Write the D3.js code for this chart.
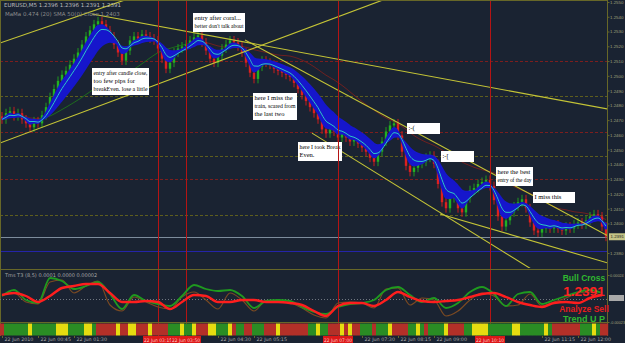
<!DOCTYPE html>
<html>
<head>
<meta charset="utf-8">
<script src="https://cdn.jsdelivr.net/npm/d3@7"></script>
<style>
  html, body { margin: 0; padding: 0; background: #1a2332; }
  svg { display: block; }
  text { font-family: "DejaVu Sans", sans-serif; }
</style>
</head>
<body>
<div id="chart"></div>
<script>
// EURUSD M5 closes
const closes = [
  1.24705, 1.24747, 1.24760, 1.24726, 1.24747, 1.24705, 1.24678, 1.24651, 1.24692, 1.24678,
  1.24733, 1.24788, 1.24856, 1.24911, 1.24966, 1.25007, 1.25034, 1.25075, 1.25116, 1.25158,
  1.25212, 1.25267, 1.25308, 1.25349, 1.25370, 1.25349, 1.25308, 1.25267, 1.25212, 1.25158,
  1.25103, 1.25171, 1.25240, 1.25267, 1.25253, 1.25281, 1.25267, 1.25253, 1.25240, 1.25185,
  1.25116, 1.25048, 1.25089, 1.25158, 1.25185, 1.25199, 1.25212, 1.25240, 1.25260, 1.25274,
  1.25226, 1.25171, 1.25116, 1.25089, 1.25137, 1.25185, 1.25212, 1.25240, 1.25226, 1.25199,
  1.25158, 1.25089, 1.25021, 1.24979, 1.25062, 1.25103, 1.25089, 1.25075, 1.25048, 1.25034,
  1.25021, 1.25007, 1.24993, 1.24952, 1.24911, 1.24870, 1.24829, 1.24788, 1.24747, 1.24705,
  1.24637, 1.24610, 1.24637, 1.24623, 1.24582, 1.24610, 1.24582, 1.24555, 1.24568, 1.24541,
  1.24514, 1.24486, 1.24445, 1.24418, 1.24486, 1.24555, 1.24623, 1.24664, 1.24678, 1.24596,
  1.24486, 1.24390, 1.24349, 1.24377, 1.24404, 1.24418, 1.24445, 1.24459, 1.24404, 1.24267,
  1.24144, 1.24103, 1.24171, 1.24185, 1.24103, 1.24075, 1.24171, 1.24226, 1.24240, 1.24267,
  1.24281, 1.24295, 1.24253, 1.24158, 1.24048, 1.23979, 1.24021, 1.24075, 1.24116, 1.24144,
  1.24164, 1.24103, 1.24007, 1.23952, 1.23938, 1.23966, 1.23979, 1.23966, 1.23993, 1.23966,
  1.23952, 1.23979, 1.23966, 1.23993, 1.24007, 1.23993, 1.24021, 1.24048, 1.24062, 1.24048,
  1.23979, 1.23910
];
const bidPrice = 1.2391;

const priceTicks = [1.2550, 1.2540, 1.2530, 1.2520, 1.2510, 1.2500, 1.2490, 1.2480, 1.2470,
  1.2460, 1.2450, 1.2440, 1.2430, 1.2420, 1.2410, 1.2400, 1.2390, 1.2380];

// horizontal levels drawn on the chart
const levelPrices = [1.2510, 1.24863, 1.24619, 1.24457, 1.24301, 1.24057, 1.23813];
const levelKinds = ['res', 'round', 'res', 'round', 'res', 'round', 'low'];

// trend lines: [bar0, price0, bar1, price1]
const trendLines = [
  [-0.5, 1.25222, 30.75, 1.25514],
  [-0.5, 1.24545, 95.25, 1.25514],
  [22.5, 1.25419, 151.5, 1.24775],
  [60.75, 1.25243, 151.5, 1.23915],
  [77.5, 1.24612, 132.75, 1.23684],
  [109.5, 1.24064, 151.5, 1.23732]
];

const vLineBars = [39, 46, 84, 122];
const vLineLabels = ['22 Jun 03:15', '22 Jun 03:50', '22 Jun 07:00', '22 Jun 10:10'];

const timeTickBars = [0, 9, 18, 27, 36, 45, 54, 63, 72, 81, 90, 99, 108, 117, 126, 135, 144];
const timeTickLabels = ['22 Jun 2010', '22 Jun 00:45', '22 Jun 01:30', '22 Jun 02:15', '22 Jun 03:00',
  '22 Jun 03:45', '22 Jun 04:30', '22 Jun 05:15', '22 Jun 06:00', '22 Jun 06:45', '22 Jun 07:30',
  '22 Jun 08:15', '22 Jun 09:00', '22 Jun 09:45', '22 Jun 10:30', '22 Jun 11:15', '22 Jun 12:00'];

// oscillator window, one value every 3 bars (units of 0.00001)
const oscRed = [4, 6, 3, -3, 3, 11, 13, 15, 15, 6, -3, -3, -2, -3, -10, -3, 4, 3, -3, -3, -1, -1, -3, -3, -4,
  -6, -12, -17, -7, -4, -4, -7, -1, 7, 2, -2, -3, -2, -1, 2, 5, 6, 2, -3, -6, -8, -4, -3, -4, 1, 4];
const oscGreen = [3, 9, -1, -4, 21, 18, 10, 13, 17, 5, -10, 4, -2, -5, -7, 3, 14, 10, 8, 9, 3, -9, -2, -1, -2,
  -8, -13, -15, -8, -5, -4, -1, 9, 12, 4, -3, 1, -9, -4, 7, 12, 5, -7, 5, 7, -5, -1, 3, 7, 9, 6];
const oscBrown = [4, 6, -3, -5, 17, 19, 6, 13, 18, -6, -12, 2, -3, -8, -10, 2, 7, -1, -10, 6, -1, -12, -2, -3, -4,
  -9, -16, -19, -4, -3, -4, -9, 10, 11, -6, 1, -1, -17, -12, -1, 6, 3, -7, -6, 5, -7, -3, 1, 6, 7, 3];
const oscTicks = [24, -23];
const oscTickLabels = ['0.00024', '-0.00023'];

// trend bar state per bar: r = sell, g = buy, y = flat
const trendState = ('rggggggygg' + 'ggggyyyggg' + 'gyygrrrrry' + 'rryyrrryrr' + 'rrgggyggyr' +
  'rryygggyrg' + 'grrgggrrry' + 'rrrrrrrggy' + 'ggrrryryrr' + 'gggrgggyrr' +
  'rrggygrggg' + 'gyrrrrggyy' + 'yyggggggyy' + 'ggggggygrr' + 'rrrrrgggygrr').split('');

// text notes pinned on the chart
const noteBars = [22.5, 47.75, 62.75, 74, 101.25, 109.75, 123.5, 132.75];
const notePrices = [1.25053, 1.25425, 1.24883, 1.24551, 1.2468, 1.24491, 1.24382, 1.24213];
const noteTexts = [
  ['entry after candle close,', 'too few pips for', 'breakEven. lose a little'],
  ['entry after coral...', "better don't talk about"],
  ['here I miss the', 'train, scared from', 'the last two'],
  ['here I took Break', 'Even.'],
  [':-('],
  [':-['],
  ['here the best', 'entry of the day'],
  ['I miss this']
];
const noteW = [57, 52, 44, 44, 33, 33, 37, 42];

const W = 625, H = 343;
const plotR = 607, mainB = 268, subT = 271, subB = 322;

const svg = d3.select('#chart').append('svg').attr('width', W).attr('height', H);
svg.append('rect').attr('width', W).attr('height', H).attr('fill', '#1a2332');

const x = d3.scaleLinear().domain([0, 151]).range([2, 606]);
const y = d3.scaleLinear().domain([1.2380, 1.2550]).range([253, 2]);
const ys = d3.scaleLinear().domain([-23, 28]).range([subB, subT]);

const defs = svg.append('defs');
defs.append('clipPath').attr('id', 'clipMain')
  .append('rect').attr('x', 0).attr('y', 0).attr('width', plotR).attr('height', mainB);

const main = svg.append('g').attr('clip-path', 'url(#clipMain)');

// levels
const lvlColor = { res: '#7c1e1e', round: '#5e5e1e', low: '#2424a8' };
main.selectAll('.lvl').data(levelPrices).join('line')
  .attr('x1', 0).attr('x2', plotR)
  .attr('y1', d => Math.round(y(d)) + 0.5).attr('y2', d => Math.round(y(d)) + 0.5)
  .attr('stroke', (d, i) => lvlColor[levelKinds[i]])
  .attr('stroke-dasharray', (d, i) => levelKinds[i] === 'low' ? null : '3,2');

main.append('line')
  .attr('x1', 0).attr('x2', plotR)
  .attr('y1', Math.round(y(bidPrice)) + 0.5).attr('y2', Math.round(y(bidPrice)) + 0.5)
  .attr('stroke', '#7d8c9c');

// vertical markers
svg.selectAll('.vline').data(vLineBars).join('line')
  .attr('x1', d => Math.round(x(d)) + 0.5).attr('x2', d => Math.round(x(d)) + 0.5)
  .attr('y1', 0).attr('y2', 336)
  .attr('stroke', '#b41414');

// indicators from the closes
function ema(arr, n) {
  const k = 2 / (n + 1);
  const out = [];
  arr.forEach((v, i) => out.push(i ? out[i - 1] + k * (v - out[i - 1]) : v));
  return out;
}
function sma(arr, n) {
  return arr.map((v, i) => d3.mean(arr.slice(Math.max(0, i - n + 1), i + 1)));
}
const bandFast = ema(closes, 3);
const bandSlow = ema(closes, 11);
const cyanLine = ema(closes, 5);
const slowMa = sma(closes, 30);

// slow MA, green when rising, dark red when falling
main.selectAll('.slow').data(d3.range(1, slowMa.length)).join('line')
  .attr('x1', i => x(i - 1)).attr('x2', i => x(i))
  .attr('y1', i => y(slowMa[i - 1])).attr('y2', i => y(slowMa[i]))
  .attr('stroke', i => slowMa[i] >= slowMa[i - 1] ? '#1d6b1d' : '#6e2020')
  .attr('stroke-width', 1);

// candles
const wick = 0.0003;
const candles = closes.map((c, i) => {
  const o = i ? closes[i - 1] : c + 0.0002;
  return { i, o, c, h: Math.max(o, c) + wick, l: Math.min(o, c) - wick };
});
const cg = main.append('g');
cg.selectAll('.wick').data(candles).join('line')
  .attr('x1', d => x(d.i)).attr('x2', d => x(d.i))
  .attr('y1', d => y(d.h)).attr('y2', d => y(d.l))
  .attr('stroke', d => d.c >= d.o ? '#1f9a1f' : '#c81c1c');
cg.selectAll('.body').data(candles).join('rect')
  .attr('x', d => x(d.i) - 1.2).attr('width', 2.4)
  .attr('y', d => y(Math.max(d.o, d.c)))
  .attr('height', d => Math.max(1, Math.abs(y(d.o) - y(d.c))))
  .attr('fill', d => d.c >= d.o ? '#22b022' : '#dc2020');

// blue band and cyan line
main.append('path')
  .datum(d3.range(closes.length))
  .attr('d', d3.area().x(i => x(i)).y0(i => y(bandFast[i])).y1(i => y(bandSlow[i])).curve(d3.curveMonotoneX))
  .attr('fill', '#1616cc').attr('stroke', '#1616cc').attr('stroke-width', 2);
main.append('path')
  .datum(d3.range(closes.length))
  .attr('d', d3.line().x(i => x(i)).y(i => y(cyanLine[i])).curve(d3.curveMonotoneX))
  .attr('fill', 'none').attr('stroke', '#2cc6c6').attr('stroke-width', 1);

// trend lines
main.selectAll('.tl').data(trendLines).join('line')
  .attr('x1', d => x(d[0])).attr('y1', d => y(d[1]))
  .attr('x2', d => x(d[2])).attr('y2', d => y(d[3]))
  .attr('stroke', '#c4c436').attr('stroke-width', 1.1);

// notes
const ng = main.selectAll('.note').data(noteTexts).join('g')
  .attr('transform', (d, i) => `translate(${Math.round(x(noteBars[i]))},${Math.round(y(notePrices[i]))})`);
ng.append('rect')
  .attr('width', (d, i) => noteW[i])
  .attr('height', d => d.length * 8 + 3)
  .attr('fill', '#ffffff');
ng.each(function (lines, i) {
  const g = d3.select(this);
  lines.forEach((t, k) => {
    const tx = g.append('text')
      .attr('x', 1.5).attr('y', 7 + k * 8)
      .style('font-family', '"Liberation Serif", serif')
      .style('font-size', '6.5px')
      .attr('fill', '#000')
      .text(t);
    const len = tx.node().getComputedTextLength();
    if (len > noteW[i] - 3) {
      tx.attr('textLength', noteW[i] - 3).attr('lengthAdjust', 'spacingAndGlyphs');
    }
  });
});

// frame
const olive = '#676728';
svg.append('line').attr('x1', 0).attr('x2', plotR).attr('y1', 0.5).attr('y2', 0.5).attr('stroke', olive);
svg.append('line').attr('x1', 0).attr('x2', plotR).attr('y1', 269.5).attr('y2', 269.5).attr('stroke', olive);
svg.append('line').attr('x1', 0).attr('x2', plotR).attr('y1', 322.5).attr('y2', 322.5).attr('stroke', olive);
svg.append('line').attr('x1', 0.5).attr('x2', 0.5).attr('y1', 0).attr('y2', 336).attr('stroke', olive);

// small right-hand labels, sized to fit the narrow strip
function styleRight(sel) {
  sel.style('font-family', '"Liberation Sans", sans-serif').style('font-size', '4.4px').attr('fill', '#a0a07a');
}

// price axis (the tick under the bid label is covered by it, as in the terminal)
const shownTicks = priceTicks.filter(p => Math.abs(y(p) - y(bidPrice)) > 5);
const yAxis = svg.append('g').attr('transform', `translate(${plotR + 0.5},0)`)
  .call(d3.axisRight(y).tickValues(shownTicks).tickSize(2).tickPadding(0.5).tickFormat(d3.format('.4f')));
yAxis.select('.domain').attr('stroke', olive).attr('d', 'M0,0V336');
yAxis.selectAll('line').attr('stroke', olive);
styleRight(yAxis.selectAll('text'));

// bid label
svg.append('rect').attr('x', 609).attr('y', y(bidPrice) - 3.5).attr('width', 16).attr('height', 7).attr('fill', '#c4c486');
svg.append('text').attr('x', 610.5).attr('y', y(bidPrice) + 1.6)
  .style('font-family', '"Liberation Sans", sans-serif').style('font-size', '4.4px').attr('fill', '#222')
  .text(d3.format('.4f')(bidPrice));

// header text
svg.append('text').attr('x', 4).attr('y', 7).style('font-size', '5.5px').attr('fill', '#bdbdbd')
  .text('EURUSD,M5  1.2396 1.2396 1.2391 1.2391');
svg.append('text').attr('x', 5).attr('y', 16).style('font-size', '5.5px').attr('fill', '#8c8c8c')
  .text('MaMa 0.474 (20)    SMA 50(0) Close    1.2403');

// oscillator window
const oscBars = oscRed.map((v, k) => k * 3);
svg.append('line').attr('x1', 0).attr('x2', plotR)
  .attr('y1', Math.round(ys(0)) + 0.5).attr('y2', Math.round(ys(0)) + 0.5)
  .attr('stroke', '#6f7680').attr('stroke-dasharray', '1,2');
const oscLine = arr => d3.line().x((v, k) => x(oscBars[k])).y(v => ys(v)).curve(d3.curveMonotoneX)(arr);
svg.append('path').attr('d', oscLine(oscBrown)).attr('fill', 'none').attr('stroke', '#7b4a22').attr('stroke-width', 1.2);
svg.append('path').attr('d', oscLine(oscGreen)).attr('fill', 'none').attr('stroke', '#1f9a1f').attr('stroke-width', 1.8);
svg.append('path').attr('d', oscLine(oscRed)).attr('fill', 'none').attr('stroke', '#ff1e1e').attr('stroke-width', 2.4);

svg.append('text').attr('x', 5).attr('y', 277).style('font-size', '5px').attr('fill', '#a8a8a8')
  .text('Tms T3 (8,5) 0.0001 0.0000 0.00002');

const oAxis = svg.append('g').attr('transform', `translate(${plotR + 0.5},0)`)
  .call(d3.axisRight(ys).tickValues(oscTicks).tickSize(2).tickPadding(0.5).tickFormat((d, i) => oscTickLabels[i]));
oAxis.select('.domain').remove();
oAxis.selectAll('line').attr('stroke', olive);
styleRight(oAxis.selectAll('text'));
oAxis.selectAll('text').style('font-size', '3.8px');
svg.append('rect').attr('x', 609).attr('y', ys(1) - 3).attr('width', 15).attr('height', 6).attr('fill', '#a9a9a9');

// signal texts
const sig = [
  { t: 'Bull Cross', y: 280.5, size: 8.5, c: '#2fb82f' },
  { t: '1.2391', y: 295.5, size: 13.5, c: '#ff2121' },
  { t: 'Analyze Sell', y: 312, size: 8.5, c: '#e81c1c' },
  { t: 'Trend U P', y: 321.5, size: 9, c: '#2fb82f' }
];
svg.selectAll('.sig').data(sig).join('text')
  .attr('x', 584).attr('y', d => d.y)
  .attr('text-anchor', 'middle')
  .style('font-family', '"Liberation Sans", Arial, sans-serif')
  .style('font-weight', 'bold')
  .style('font-size', d => d.size + 'px')
  .attr('fill', d => d.c)
  .text(d => d.t);

// trend colour bar
const stateColor = { r: '#b33028', g: '#2a8c24', y: '#e6dc10' };
svg.selectAll('.tb').data(trendState).join('rect')
  .attr('x', (d, i) => x(i) - 2).attr('width', 4.2)
  .attr('y', 323.5).attr('height', 12)
  .attr('fill', d => stateColor[d]);

// time axis: ordinary labels that would sit under a red marker label are left out
const vx = vLineBars.map(b => Math.round(x(b)));
const keepTick = b => vx.every(v => x(b) + 35 < v - 17 || x(b) > v + 17);
const tickIdx = timeTickBars.map((b, i) => i).filter(i => keepTick(timeTickBars[i]));
const xAxis = svg.append('g').attr('transform', 'translate(0,336)')
  .call(d3.axisBottom(x).tickValues(tickIdx.map(i => timeTickBars[i])).tickSize(2).tickPadding(0)
    .tickFormat(b => timeTickLabels[timeTickBars.indexOf(b)]));
xAxis.select('.domain').remove();
xAxis.selectAll('line').attr('stroke', olive);
xAxis.selectAll('text').style('font-size', '4.8px').attr('fill', '#a8a8a8')
  .attr('text-anchor', 'start').attr('dx', 2).attr('y', 1.5);

const vl = svg.selectAll('.vlab').data(vLineBars).join('g')
  .attr('transform', d => `translate(${Math.round(x(d))},336)`);
vl.append('rect').attr('x', -15).attr('width', 30).attr('height', 7).attr('fill', '#dc1818');
vl.append('text').attr('text-anchor', 'middle').attr('y', 5.5)
  .style('font-size', '4.8px').attr('fill', '#ffc8c8')
  .attr('textLength', 28).attr('lengthAdjust', 'spacingAndGlyphs')
  .text((d, i) => vLineLabels[i]);
</script>
</body>
</html>
